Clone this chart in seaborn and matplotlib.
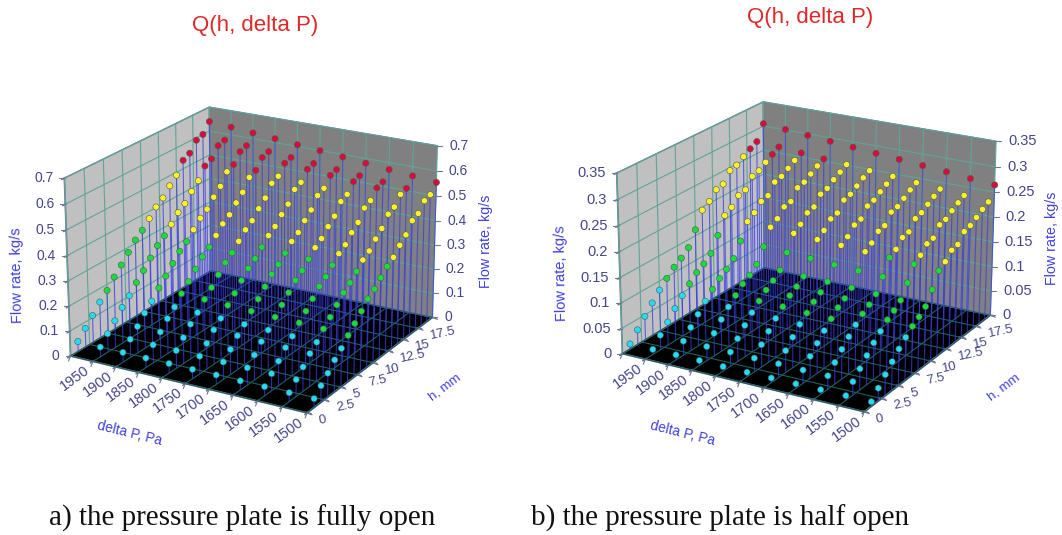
import numpy as np
import seaborn as sns
import matplotlib
matplotlib.use("Agg")
import matplotlib.pyplot as plt
from matplotlib.lines import Line2D

# Measured grid, one row per delta P, one value per h
delta_p = [1500, 1550, 1600, 1650, 1700, 1750, 1800, 1850, 1900, 1950, 2000]
h_mm = [1, 2, 3, 4, 5, 6, 7, 8, 9, 10, 11, 12, 13, 14, 15, 16, 17, 18, 19, 20]

flow_open = [
    [.035, .065, .094, .126, .152, .184, .212, .242, .272, .293, .320, .348, .367, .398, .423, .463, .476, .511, .520, .554],
    [.035, .066, .096, .129, .155, .188, .216, .246, .276, .298, .326, .354, .373, .404, .430, .471, .484, .519, .528, .563],
    [.036, .067, .097, .131, .157, .191, .219, .250, .281, .302, .331, .360, .379, .411, .436, .478, .492, .528, .537, .572],
    [.036, .068, .099, .133, .160, .193, .223, .254, .285, .307, .336, .365, .385, .417, .443, .486, .500, .536, .545, .581],
    [.037, .069, .100, .135, .162, .196, .226, .258, .290, .312, .341, .371, .391, .423, .450, .493, .507, .544, .553, .590],
    [.037, .070, .102, .137, .165, .199, .229, .262, .294, .316, .346, .376, .397, .429, .456, .500, .514, .552, .561, .599],
    [.038, .071, .103, .139, .167, .202, .232, .266, .298, .321, .351, .381, .402, .435, .463, .508, .522, .560, .569, .607],
    [.038, .072, .105, .140, .169, .205, .236, .269, .302, .325, .356, .387, .408, .441, .469, .515, .529, .567, .577, .616],
    [.039, .073, .106, .142, .172, .208, .239, .273, .306, .329, .361, .392, .413, .447, .476, .521, .536, .575, .585, .624],
    [.039, .074, .108, .144, .174, .210, .242, .276, .310, .334, .365, .397, .419, .453, .482, .528, .543, .583, .592, .632],
    [.040, .075, .109, .146, .176, .213, .245, .280, .314, .338, .370, .402, .424, .459, .488, .535, .550, .590, .600, .640],
]
flow_half = [
    [.009, .025, .041, .056, .071, .084, .096, .105, .116, .140, .168, .177, .191, .194, .211, .215, .223, .231, .238, .264],
    [.009, .026, .041, .057, .072, .085, .098, .107, .118, .143, .171, .180, .194, .197, .215, .218, .227, .235, .242, .268],
    [.009, .026, .042, .058, .073, .087, .099, .108, .120, .145, .174, .182, .197, .200, .218, .222, .231, .239, .246, .273],
    [.009, .026, .043, .059, .074, .088, .101, .110, .122, .147, .176, .185, .200, .203, .222, .225, .234, .243, .250, .277],
    [.009, .027, .043, .060, .076, .089, .102, .112, .124, .149, .179, .188, .203, .207, .225, .229, .238, .246, .254, .281],
    [.009, .027, .044, .061, .077, .091, .104, .113, .125, .152, .181, .191, .206, .210, .228, .232, .241, .250, .257, .285],
    [.009, .028, .045, .062, .078, .092, .105, .115, .127, .154, .184, .194, .209, .213, .231, .235, .245, .253, .261, .289],
    [.010, .028, .045, .063, .079, .093, .107, .116, .129, .156, .187, .196, .212, .215, .235, .239, .248, .257, .264, .293],
    [.010, .028, .046, .063, .080, .095, .108, .118, .131, .158, .189, .199, .214, .218, .238, .242, .251, .260, .268, .297],
    [.010, .029, .046, .064, .081, .096, .110, .119, .132, .160, .192, .201, .217, .221, .241, .245, .255, .264, .272, .301],
    [.010, .029, .047, .065, .082, .097, .111, .121, .134, .162, .194, .204, .220, .224, .244, .248, .258, .267, .275, .305],
]

h_ticks = [0, 2.5, 5, 7.5, 10, 12.5, 15, 17.5, 20]
h_labels = ["0", "2.5", "5", "7.5", "10", "12.5", "15", "17.5", ""]
dp_ticks = [1500, 1550, 1600, 1650, 1700, 1750, 1800, 1850, 1900, 1950, 2000]
dp_labels = ["1500", "1550", "1600", "1650", "1700", "1750", "1800", "1850", "1900", "1950", ""]
open_ticks = [0, .1, .2, .3, .4, .5, .6, .7]
open_labels = ["0", "0.1", "0.2", "0.3", "0.4", "0.5", "0.6", "0.7"]
half_ticks = [0, .05, .1, .15, .2, .25, .3, .35]
half_labels = ["0", "0.05", "0.1", "0.15", "0.2", "0.25", "0.3", "0.35"]

W, H = 1062, 535
SIZE = 530
TICK_COLOR = "#45458c"
LABEL_COLOR = "#4040e0"
EDGE_COLOR = "#6e7896"
WALL_GRID = "#5fa596"
FLOOR_GRID = "#1c6060"

sns.set_theme(style="white", rc={"font.family": ["Liberation Sans"]})
bands = sns.color_palette(["#22dcff", "#18dc3c", "#fff028", "#dc0a3c"])


def tick_text(fig, ax, x, y, z, s, mark, dx, dy, **kw):
    # 3D anchor -> figure pixels, so the label stays a plain 2D text
    v = ax.get_proj() @ np.array([x, y, z, 1.0])
    px, py = ax.transData.transform(v[:2] / v[3])
    fig.add_artist(Line2D([px/W, (px + mark[0])/W], [py/H, (py + mark[1])/H],
                          color=EDGE_COLOR, lw=0.8, transform=fig.transFigure))
    if s:
        fig.text((px + dx)/W, (py + dy)/H, s, color=TICK_COLOR, va="center",
                 rotation_mode="anchor", **kw)


def draw_panel(fig, flow, zticks, zlabels, zsize, cam, center):
    zmax = zticks[-1]
    ax = fig.add_axes([(center - SIZE/2 + cam["dx"])/W, (H - SIZE)/2/H - cam["dy"]/H, SIZE/W, SIZE/H],
                      projection="3d", computed_zorder=False)
    ax.set_facecolor("none")
    ax.view_init(cam["elev"], cam["azim"], cam["roll"])
    ax.set_proj_type("persp", focal_length=cam["f"])
    ax.set_box_aspect((cam["ax"], cam["ay"], 1), zoom=cam["zoom"])
    ax.grid(False)

    hmax, pmin, pmax = h_ticks[-1], dp_ticks[0], dp_ticks[-1]
    # walls and floor
    for t in h_ticks:
        ax.plot([t, t], [pmax, pmax], [0, zmax], color=WALL_GRID, lw=0.8, zorder=1)
        ax.plot([t, t], [pmin, pmax], [0, 0], color=FLOOR_GRID, lw=0.8, zorder=1)
    for t in dp_ticks:
        ax.plot([hmax, hmax], [t, t], [0, zmax], color=WALL_GRID, lw=0.8, zorder=1)
        ax.plot([0, hmax], [t, t], [0, 0], color=FLOOR_GRID, lw=0.8, zorder=1)
    for t in zticks[1:]:
        ax.plot([0, hmax], [pmax, pmax], [t, t], color=WALL_GRID, lw=0.8, zorder=1)
        ax.plot([hmax, hmax], [pmin, pmax], [t, t], color=WALL_GRID, lw=0.8, zorder=1)

    hh, pp = np.meshgrid(h_mm, delta_p)
    q = np.array(flow)
    band = np.digitize(q.ravel(), [zmax/4, zmax/2, 3*zmax/4])
    stem = ax.stem(hh.ravel(), pp.ravel(), q.ravel(), linefmt="-", markerfmt=" ", basefmt=" ")
    stem.stemlines.set(color="#3a3ae8", linewidth=0.8, alpha=0.75, zorder=2)
    ax.scatter(hh.ravel(), pp.ravel(), q.ravel(), c=[bands[i] for i in band], s=20,
               edgecolors="#4a5a4a", linewidths=0.4, depthshade=False, zorder=3)

    ax.set_xlim(0, hmax, view_margin=0)
    ax.set_ylim(pmin, pmax, view_margin=0)
    ax.set_zlim(0, zmax, view_margin=0)
    ax.set_xticks(h_ticks, [""]*len(h_ticks))
    ax.set_yticks(dp_ticks, [""]*len(dp_ticks))
    ax.set_zticks(zticks, [""]*len(zticks))
    ax.xaxis.set_pane_color("#808080")
    ax.yaxis.set_pane_color("#c0c0c0")
    ax.zaxis.set_pane_color("#000000")
    for axis in (ax.xaxis, ax.yaxis, ax.zaxis):
        axis.pane.set_edgecolor(EDGE_COLOR)
        axis.line.set_color(EDGE_COLOR)
    ax.tick_params(axis="both", color=EDGE_COLOR)

    ax.apply_aspect()
    for t, s in zip(dp_ticks, dp_labels):
        tick_text(fig, ax, 0, t, 0, s, (-2, -5), -18, -17, ha="center", rotation=36, fontsize=10.5)
    for t, s in zip(h_ticks, h_labels):
        tick_text(fig, ax, t, pmin, 0, s, (5, -2), 12, -8, ha="left", rotation=12, fontsize=9.5)
    for t, s in zip(zticks, zlabels):
        tick_text(fig, ax, 0, pmax, t, s, (-5, 0), -11, 0, ha="right", fontsize=zsize)
        tick_text(fig, ax, hmax, pmin, t, s, (5, 0), 12, 0, ha="left", fontsize=zsize)
    return ax


fig = plt.figure(figsize=(W/100, H/100), dpi=100)
cam_a = dict(elev=20.712, azim=-149.892, roll=0.110, f=0.7623, ax=1.4436, ay=1.4368, zoom=0.7760, dx=-7.08, dy=-10.07)
cam_b = dict(elev=20.565, azim=-150.229, roll=-0.102, f=0.7611, ax=1.4479, ay=1.4442, zoom=0.7892, dx=-6.67, dy=-13.60)
draw_panel(fig, flow_open, open_ticks, open_labels, 10, cam_a, 255)
draw_panel(fig, flow_half, half_ticks, half_labels, 10.5, cam_b, 810)


def put(x, y, s, **kw):
    fig.text(x/W, 1 - y/H, s, ha="center", va="center", **kw)


put(255, 25, "Q(h, delta P)", color="#e02828", fontsize=16)
put(810, 17, "Q(h, delta P)", color="#e02828", fontsize=16)
put(17, 275, "Flow rate, kg/s", color=LABEL_COLOR, fontsize=10.5, rotation=91)
put(486, 241, "Flow rate, kg/s", color=LABEL_COLOR, fontsize=10.3, rotation=90)
put(561, 273, "Flow rate, kg/s", color=LABEL_COLOR, fontsize=10.5, rotation=91)
put(1052, 238, "Flow rate, kg/s", color=LABEL_COLOR, fontsize=10.3, rotation=90)
put(130, 433, "delta P, Pa", color=LABEL_COLOR, fontsize=10, rotation=-14)
put(683, 433, "delta P, Pa", color=LABEL_COLOR, fontsize=10, rotation=-14)
put(445, 387, "h, mm", color=LABEL_COLOR, fontsize=9.5, rotation=37)
put(1004, 387, "h, mm", color=LABEL_COLOR, fontsize=9.5, rotation=37)
put(242, 518, "a) the pressure plate is fully open", family="Liberation Serif", color="#111111", fontsize=21)
put(720, 518, "b) the pressure plate is half open", family="Liberation Serif", color="#111111", fontsize=21)

fig.savefig("out.png", dpi=100)
